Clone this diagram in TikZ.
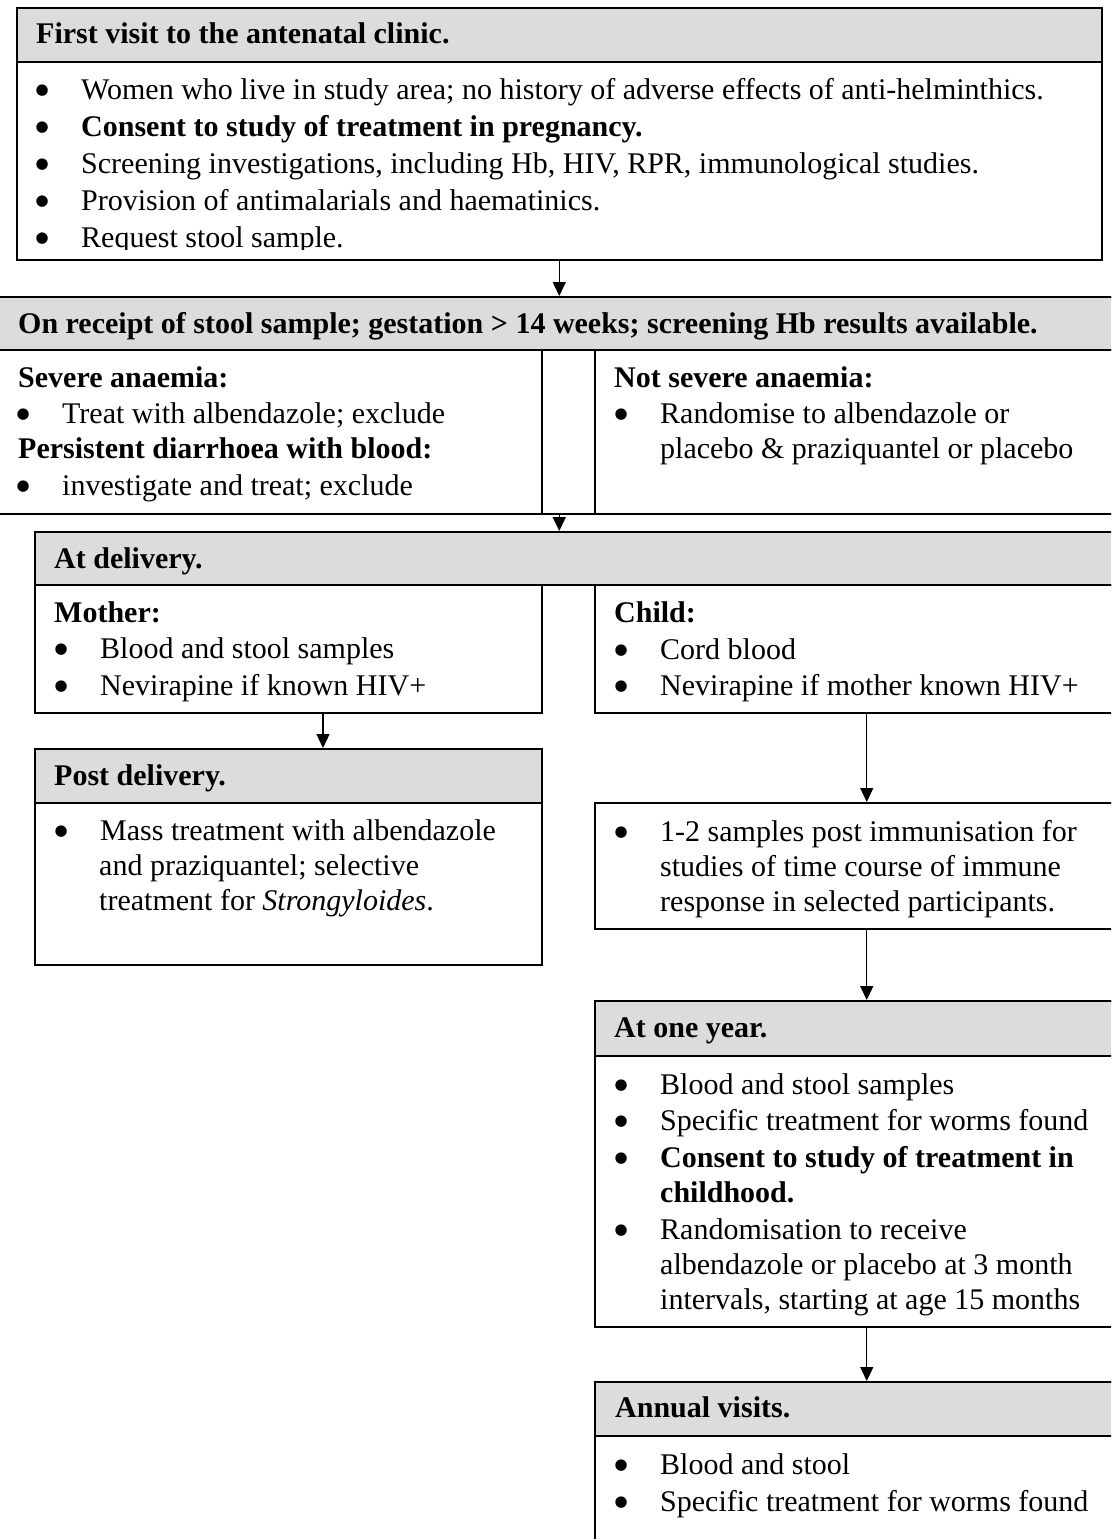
\documentclass[tikz,border=0pt]{standalone}
\usepackage{fontspec}
\setmainfont{Liberation Serif}
\newfontfamily\dotfont{DejaVu Sans}
\usetikzlibrary{positioning,calc,arrows.meta}
\definecolor{headgrey}{RGB}{220,220,220}
\newcommand{\bodysize}{\fontsize{30}{36}\selectfont}
\newcommand{\bul}{\makebox[0pt]{\raisebox{5pt}{\dotfont\fontsize{15}{15}\selectfont ●}}\hspace{39pt}}

\begin{document}
\begin{tikzpicture}[x=1pt, y=-1pt,
    panel/.style={draw, line width=1.5pt, anchor=north west, inner sep=0pt},
    head/.style={panel, fill=headgrey},
    title/.style={anchor=base west, inner sep=0pt, font=\bodysize\bfseries},
    item/.style={anchor=base west, inner sep=0pt, font=\bodysize},
    flow/.style={line width=1.4pt, -{Triangle[width=13pt,length=14pt]}}]
\useasboundingbox (0,0) rectangle (1111,1539);
\clip (0,0) rectangle (1111,1539);

% First visit
\node[panel, minimum width=1085pt, minimum height=252pt] (visit) at (16,7) {};
\node[head, minimum width=1085pt, minimum height=54pt] (visithead) at (16,7) {};
\node[title] (visittitle) at (36,43.5) {First visit to the antenatal clinic.};
\begin{scope}
  \clip (16,61) rectangle (1101,249.5);
  \node[item] (visit1) at (42,99) {\bul Women who live in study area; no history of adverse effects of anti-helminthics.};
  \node[item] (visit2) at (42,136) {\bul\textbf{Consent to study of treatment in pregnancy.}};
  \node[item] (visit3) at (42,173) {\bul Screening investigations, including Hb, HIV, RPR, immunological studies.};
  \node[item] (visit4) at (42,210) {\bul Provision of antimalarials and haematinics.};
  \node[item] (visit5) at (42,247) {\bul Request stool sample.};
\end{scope}

% Receipt of stool sample
\node[panel, minimum width=1126pt, minimum height=217pt] (receipt) at (-4.5,296) {};
\node[head, minimum width=1126pt, minimum height=53pt] (receipthead) at (-4.5,296) {};
\node[title] (receipttitle) at (18,333) {On receipt of stool sample; gestation > 14 weeks; screening Hb results available.};
\node[panel, minimum width=545.5pt, minimum height=164pt] (severe) at (-4.5,349) {};
\node[panel, minimum width=527.5pt, minimum height=164pt] (notsevere) at (594,349) {};
\node[title] (severe1) at (18,387) {Severe anaemia:};
\node[item] (severe2) at (23,423) {\bul Treat with albendazole; exclude};
\node[title] (severe3) at (18,458) {Persistent diarrhoea with blood:};
\node[item] (severe4) at (23,495) {\bul investigate and treat; exclude};
\node[title] (notsevere1) at (614,387) {Not severe anaemia:};
\node[item] (notsevere2) at (621,423) {\bul Randomise to albendazole or};
\node[item] (notsevere3) at (660,458) {placebo \& praziquantel or placebo};

% At delivery
\node[head, minimum width=1104pt, minimum height=53pt] (delivhead) at (34,531) {};
\node[title] (delivtitle) at (54,568) {At delivery.};
\node[panel, minimum width=507pt, minimum height=128pt] (mother) at (34,584) {};
\node[panel, minimum width=544pt, minimum height=128pt] (child) at (594,584) {};
\node[title] (mother1) at (54,622) {Mother:};
\node[item] (mother2) at (61,658) {\bul Blood and stool samples};
\node[item] (mother3) at (61,695) {\bul Nevirapine if known HIV+};
\node[title] (child1) at (614,622) {Child:};
\node[item] (child2) at (621,659) {\bul Cord blood};
\node[item] (child3) at (621,695) {\bul Nevirapine if mother known HIV+};

% Post delivery
\node[panel, minimum width=507pt, minimum height=216pt] (post) at (34,748) {};
\node[head, minimum width=507pt, minimum height=54pt] (posthead) at (34,748) {};
\node[title] (posttitle) at (54,785) {Post delivery.};
\node[item] (post1) at (61,840) {\bul Mass treatment with albendazole};
\node[item] (post2) at (99,875) {and praziquantel; selective};
\node[item] (post3) at (99,910) {treatment for \textit{Strongyloides}.};

% Samples post immunisation
\node[panel, minimum width=544pt, minimum height=126pt] (samples) at (594,802) {};
\node[item] (samples1) at (621,841) {\bul 1-2 samples post immunisation for};
\node[item] (samples2) at (660,876) {studies of time course of immune};
\node[item] (samples3) at (660,911) {response in selected participants.};

% At one year
\node[panel, minimum width=544pt, minimum height=326pt] (oneyear) at (594,1000) {};
\node[head, minimum width=544pt, minimum height=55pt] (oneyearhead) at (594,1000) {};
\node[title] (oneyeartitle) at (614,1037) {At one year.};
\node[item] (oneyear1) at (621,1094) {\bul Blood and stool samples};
\node[item] (oneyear2) at (621,1130) {\bul Specific treatment for worms found};
\node[item] (oneyear3) at (621,1167) {\bul\textbf{Consent to study of treatment in}};
\node[title] (oneyear4) at (660,1202) {childhood.};
\node[item] (oneyear5) at (621,1239) {\bul Randomisation to receive};
\node[item] (oneyear6) at (660,1274) {albendazole or placebo at 3 month};
\node[item] (oneyear7) at (660,1309) {intervals, starting at age 15 months};

% Annual visits
\node[panel, minimum width=544pt, minimum height=230pt] (annual) at (594,1381) {};
\node[head, minimum width=544pt, minimum height=54pt] (annualhead) at (594,1381) {};
\node[title] (annualtitle) at (615,1417) {Annual visits.};
\node[item] (annual1) at (621,1474) {\bul Blood and stool};
\node[item] (annual2) at (621,1511) {\bul Specific treatment for worms found};

% Arrows
\coordinate (motherdrop) at (323,0);
\draw[flow] (visit.south) -- (receipthead.north);
\draw[flow] (receipt.south) -- (receipt.south |- delivhead.north);
\draw[flow] (mother.south -| motherdrop) -- (posthead.north -| motherdrop);
\draw[flow] (child.south) -- (samples.north);
\draw[flow] (samples.south) -- (oneyearhead.north);
\draw[flow] (oneyear.south) -- (annualhead.north);
\end{tikzpicture}
\end{document}
